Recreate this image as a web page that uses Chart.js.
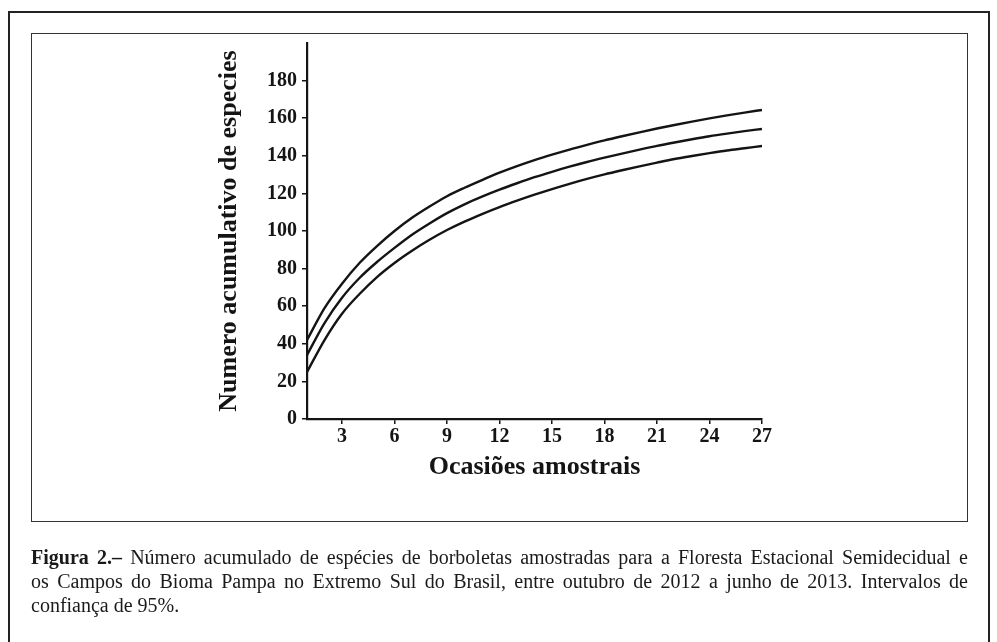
<!DOCTYPE html>
<html>
<head>
<meta charset="utf-8">
<script src="https://cdn.jsdelivr.net/npm/chart.js@4"></script>
<style>
  html, body { margin: 0; padding: 0; background: #fff; }
  body { width: 997px; height: 642px; position: relative; overflow: hidden; font-family: "Liberation Serif", serif; color: #1a1a1a; }
  #outer { position: absolute; left: 8px; top: 11px; width: 978px; height: 700px; border: 2.5px solid #222; }
  #inner { position: absolute; left: 31px; top: 33px; width: 935px; height: 487px; border: 1.5px solid #333; }
  #chart { position: absolute; left: 0; top: 0; }
  #caption { position: absolute; left: 31px; top: 545px; width: 937px; font-size: 20px; line-height: 24px; }
  #caption .l { text-align: justify; text-align-last: justify; white-space: nowrap; }
  #caption .last { text-align: left; }
</style>
</head>
<body>
<div id="outer"></div>
<div id="inner"></div>
<canvas id="chart" width="997" height="642"></canvas>
<div id="caption">
  <div class="l"><b>Figura 2.–</b> Número acumulado de espécies de borboletas amostradas para a Floresta Estacional Semidecidual e</div>
  <div class="l">os Campos do Bioma Pampa no Extremo Sul do Brasil, entre outubro de 2012 a junho de 2013. Intervalos de</div>
  <div class="last">confiança de 95%.</div>
</div>
<script>
// sampling occasions and estimated cumulative species (with 95% bounds)
const occasions = [1, 2, 3, 4, 5, 6, 7, 8, 9, 10, 11, 12, 13, 14, 15, 16, 17, 18, 19, 20, 21, 22, 23, 24, 25, 26, 27];
const upperCI = [42, 59, 72, 83, 92, 100, 107, 113, 118.5, 123, 127.1, 131, 134.5, 137.7, 140.6, 143.3, 145.8, 148.2, 150.4, 152.5, 154.5, 156.4, 158.2, 159.9, 161.5, 163, 164.4];
const speciesMean = [34, 51, 64.5, 75, 83.5, 91, 98, 104, 109.5, 114.2, 118.3, 122, 125.4, 128.6, 131.5, 134.2, 136.7, 139, 141.2, 143.3, 145.3, 147.1, 148.8, 150.4, 151.8, 153.1, 154.3];
const lowerCI = [25, 42, 56, 66.5, 75.5, 83, 89.5, 95.3, 100.5, 105, 109, 112.7, 116.1, 119.3, 122.3, 125.1, 127.7, 130.1, 132.3, 134.4, 136.4, 138.3, 139.9, 141.4, 142.8, 144, 145.2];
const xTickValues = [3, 6, 9, 12, 15, 18, 21, 24, 27];
const yTickValues = [0, 20, 40, 60, 80, 100, 120, 140, 160, 180];

const ink = '#141414';
const serif = 'Liberation Serif';

function series(values) {
  return {
    data: occasions.map((x, i) => ({ x: x, y: values[i] })),
    borderColor: ink,
    borderWidth: 2.4,
    pointRadius: 0,
    fill: false,
    cubicInterpolationMode: 'monotone'
  };
}

new Chart(document.getElementById('chart').getContext('2d'), {
  type: 'line',
  data: {
    datasets: [series(upperCI), series(speciesMean), series(lowerCI)]
  },
  options: {
    responsive: false,
    animation: false,
    events: [],
    layout: { padding: { left: 214, right: 235, top: 43, bottom: 159 } },
    plugins: { legend: { display: false }, tooltip: { enabled: false } },
    scales: {
      x: {
        type: 'linear',
        min: 1,
        max: 27,
        afterBuildTicks: s => { s.ticks = xTickValues.map(v => ({ value: v })); },
        afterFit: s => { s.height = 64; },
        border: { display: true, color: ink, width: 2.2 },
        grid: { drawOnChartArea: false, drawTicks: true, tickLength: 5, color: ink, lineWidth: 1.5 },
        ticks: { color: ink, padding: 1, maxRotation: 0, autoSkip: false, font: { family: serif, size: 20, weight: 'bold' } },
        title: { display: true, text: 'Ocasiões amostrais', color: ink, padding: { top: 0, bottom: 0 }, font: { family: serif, size: 26, weight: 'bold' } }
      },
      y: {
        type: 'linear',
        min: 0,
        max: 200,
        afterBuildTicks: s => { s.ticks = yTickValues.map(v => ({ value: v })); },
        afterFit: s => { s.width = 93; },
        border: { display: true, color: ink, width: 2.2 },
        grid: { drawOnChartArea: false, drawTicks: true, tickLength: 5, color: ink, lineWidth: 1.5 },
        ticks: { color: ink, padding: 5, autoSkip: false, font: { family: serif, size: 20, weight: 'bold' } },
        title: { display: true, text: 'Numero acumulativo de especies', color: ink, padding: { top: 0, bottom: 0 }, font: { family: serif, size: 26, weight: 'bold' } }
      }
    }
  }
});
</script>
</body>
</html>
